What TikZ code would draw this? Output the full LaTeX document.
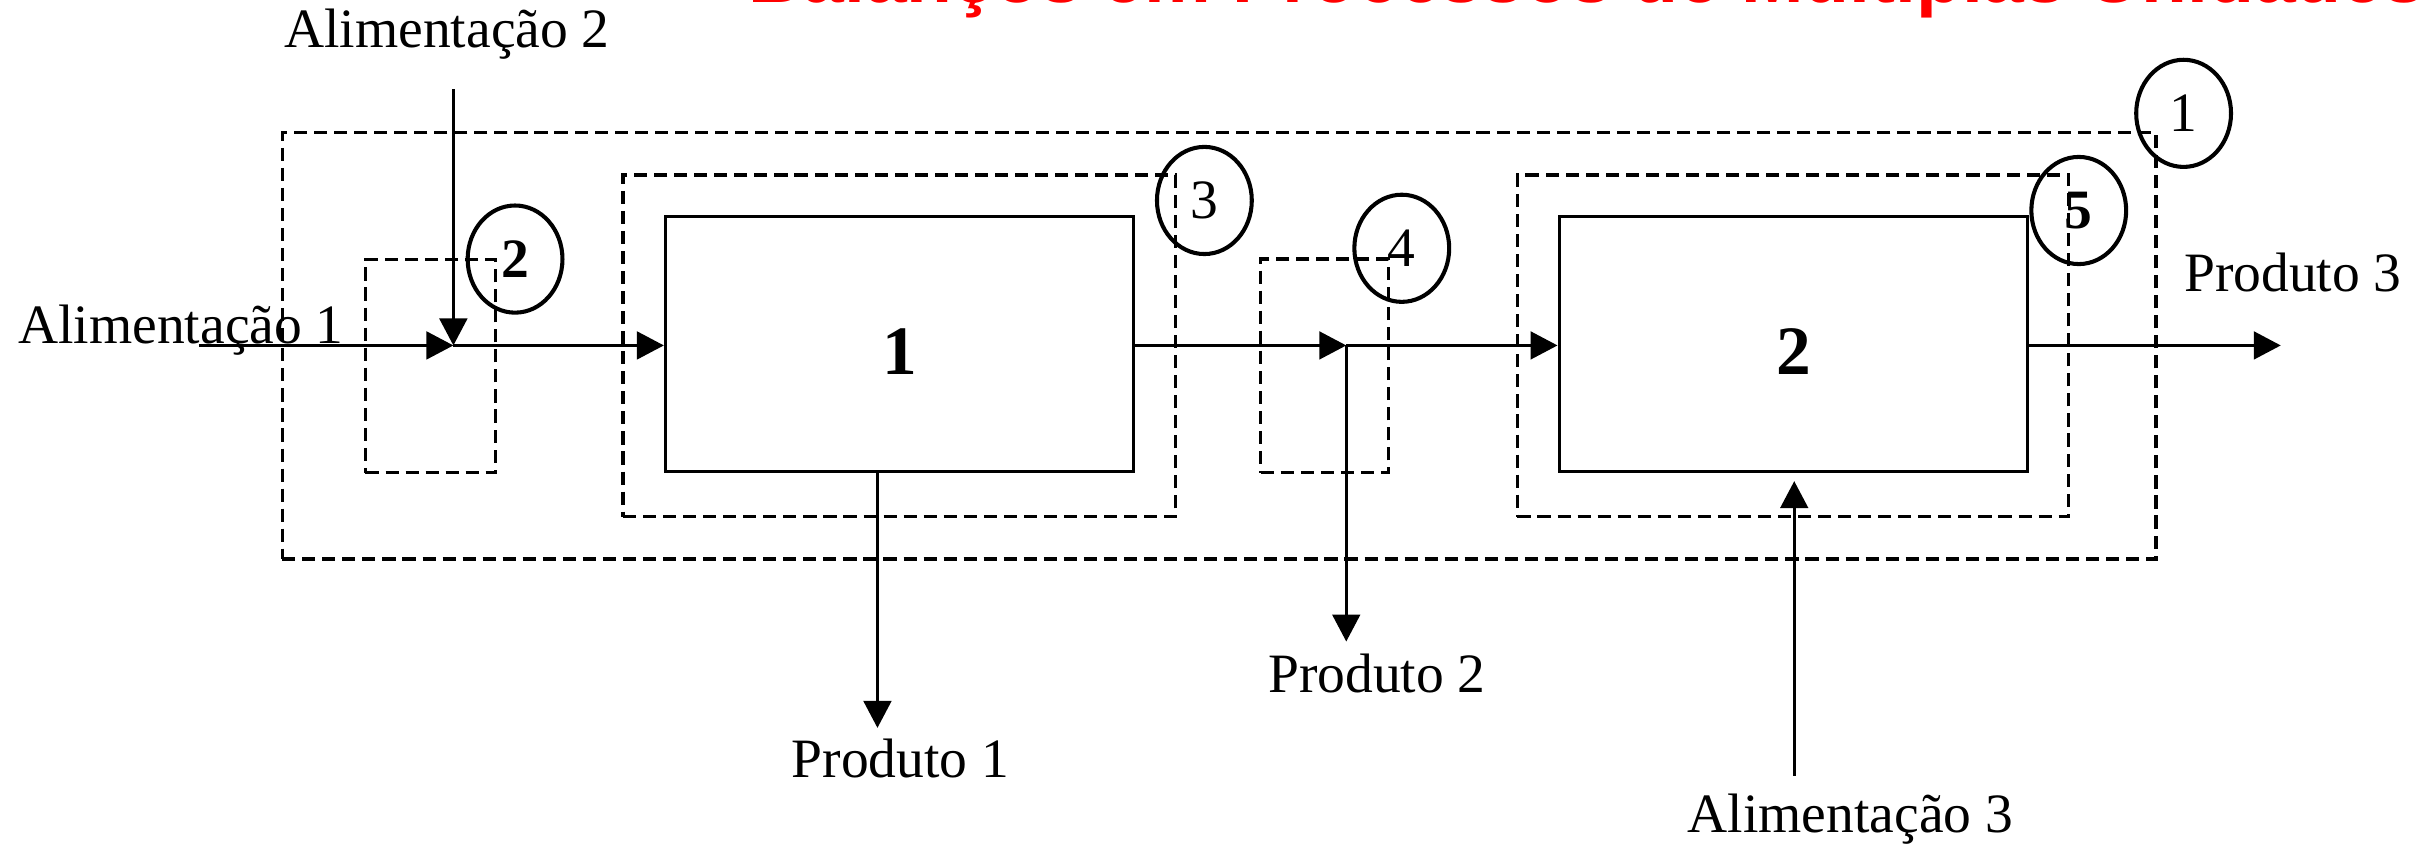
\documentclass[tikz,border=0pt]{standalone}
\usepackage{fontspec}
\setmainfont{Liberation Serif}
\newfontfamily\titlefont{Liberation Sans}
\usetikzlibrary{shapes.geometric,fit,arrows.meta,calc}
\begin{document}
\begin{tikzpicture}[x=0.02cm,y=-0.02cm,
  unitbox/.style={draw, line width=1.15pt, inner sep=0pt},
  envbox/.style={draw, dash pattern=on 0.17cm off 0.09cm, line width=1.2pt, inner sep=0pt},
  tag/.style={ellipse, draw, line width=1.5pt, minimum width=1.23cm, minimum height=1.39cm, inner sep=0pt, font=\fontsize{20.5}{24}\selectfont},
  lbl/.style={inner sep=0pt, anchor=base west, font=\fontsize{20.5}{24}\selectfont},
  unitlabel/.style={inner sep=0pt, font=\bfseries\fontsize{25.6}{30}\selectfont},
  flow/.style={line width=1pt, -{Triangle[length=0.35cm,width=0.36cm]}},
]
\useasboundingbox[fill=white] (0,0) rectangle (1568,548.6);

% title (cut off by the top edge)
\node[anchor=base west, inner sep=0pt, text=red, font=\titlefont\bfseries\fontsize{27.7}{30}\selectfont] (title) at (485,1.5) {Balanços em Processos de Múltiplas Unidades};

% control volumes
\node[envbox, fit={(183,86) (1398,362.5)}] (env1) {};
\node[envbox, fit={(237,168.5) (321.5,306.5)}] (env2) {};
\node[envbox, fit={(404,113.5) (762.5,335)}] (env3) {};
\node[envbox, fit={(817.5,168) (900.5,306.5)}] (env4) {};
\node[envbox, fit={(984,113.5) (1341.5,335)}] (env5) {};

% units
\node[unitbox, fit={(431.5,140.5) (735,306)}] (u1) {};
\node[unitbox, fit={(1011,140.5) (1315,306)}] (u2) {};
\node[unitlabel] (lab1) at (583.5,228) {1};
\node[unitlabel] (lab2) at (1163,228) {2};

% tags
\node[tag] (t1) at (1416,73.5) {1};
\node[tag] (t2) at (334,168) {\textbf{2}};
\node[tag] (t3) at (781,130) {3};
\node[tag] (t4) at (909,161) {4};
\node[tag] (t5) at (1348,136.5) {\textbf{5}};

% labels
\node[lbl] (lf2) at (184,31) {Alimentação 2};
\node[lbl] (lf1) at (11.5,222.5) {Alimentação 1};
\node[lbl] (lp3) at (1416,189) {Produto 3};
\node[lbl] (lp1) at (513,504) {Produto 1};
\node[lbl] (lp2) at (822,449) {Produto 2};
\node[lbl] (lf3) at (1094,540) {Alimentação 3};

% stream points
\coordinate (mix) at (294,224);
\coordinate (split) at (873,224);
\coordinate (f1) at (129,224);
\coordinate (f2) at (294,58);
\coordinate (f3) at (1163.5,503);
\coordinate (p1) at (569,472);
\coordinate (p2) at (873,416);
\coordinate (p3) at (1479,224);

% streams
\draw[flow] (f1) -- (mix);
\draw[flow] (f2) -- (mix);
\draw[flow] (mix) -- (mix -| u1.west);
\draw[flow] (u1.east |- split) -- (split);
\draw[flow] (split) -- (split -| u2.west);
\draw[flow] (split) -- (p2);
\draw[flow] (u1.south -| p1) -- (p1);
\draw[flow] (f3) -- ($(f3 |- u2.south)+(0,5)$);
\draw[flow] (u2.east |- p3) -- (p3);
\end{tikzpicture}
\end{document}
